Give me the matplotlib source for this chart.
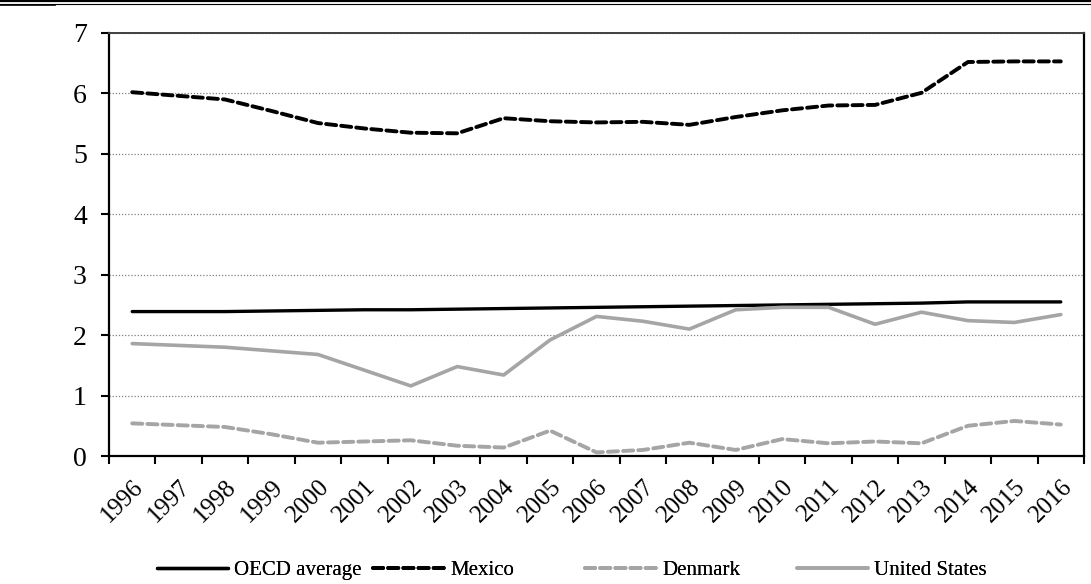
import matplotlib

matplotlib.use("Agg")
import matplotlib.pyplot as plt
from matplotlib.lines import Line2D
import numpy as np

# ---- data -------------------------------------------------------------------
years = [str(y) for y in range(1996, 2017)]
oecd = [2.39, 2.39, 2.39, 2.40, 2.41, 2.42, 2.42, 2.43, 2.44, 2.45, 2.46,
        2.47, 2.48, 2.49, 2.50, 2.51, 2.52, 2.53, 2.55, 2.55, 2.55]
mexico = [6.02, 5.96, 5.90, 5.71, 5.51, 5.42, 5.35, 5.34, 5.59, 5.54, 5.52,
          5.53, 5.48, 5.61, 5.72, 5.80, 5.81, 6.01, 6.52, 6.53, 6.53]
denmark = [0.54, 0.51, 0.48, 0.36, 0.22, 0.24, 0.26, 0.17, 0.14, 0.42, 0.06,
           0.10, 0.22, 0.10, 0.28, 0.21, 0.24, 0.21, 0.50, 0.58, 0.52]
usa = [1.86, 1.83, 1.80, 1.74, 1.68, 1.42, 1.16, 1.48, 1.34, 1.92, 2.31,
       2.23, 2.10, 2.42, 2.46, 2.46, 2.18, 2.38, 2.24, 2.21, 2.34]
y_ticks = [0, 1, 2, 3, 4, 5, 6, 7]

GREY = "#a5a5a5"
plt.rcParams["font.family"] = ["Liberation Serif", "DejaVu Serif"]

fig = plt.figure(figsize=(10.91, 5.84), dpi=100)
ax = fig.add_axes([109 / 1091, 1 - 456 / 584, (1084 - 109) / 1091, (456 - 33) / 584])

x = np.arange(len(years))
dash = (2.6, 1.3)
lines = []
lines += ax.plot(x, oecd, color="black", lw=2.4, solid_capstyle="round", label="OECD average")
lines += ax.plot(x, mexico, color="black", lw=2.8, dashes=dash, dash_capstyle="round", label="Mexico")
lines += ax.plot(x, denmark, color=GREY, lw=2.8, dashes=dash, dash_capstyle="round", label="Denmark")
lines += ax.plot(x, usa, color=GREY, lw=2.6, solid_capstyle="round", label="United States")

ax.set_xlim(-0.5, len(years) - 0.5)
ax.set_ylim(0, 7)
ax.set_yticks(y_ticks)
ax.yaxis.grid(True, linestyle=(0, (1, 1.5)), color="#808080", lw=0.9)
ax.set_axisbelow(True)

# ticks between categories, labels centred on categories
ax.set_xticks(np.arange(-0.5, len(years)))
ax.set_xticklabels([])
ax.set_xticks(x, minor=True)
ax.set_xticklabels(years, minor=True, rotation=45, ha="right", va="top",
                   rotation_mode="anchor", fontsize=18)
ax.tick_params(axis="x", which="major", direction="out", length=6, width=1.5)
ax.tick_params(axis="x", which="minor", length=0, pad=14)
ax.tick_params(axis="y", direction="out", length=6, width=1.5, labelsize=20, pad=10)

for side in ["left", "bottom", "right"]:
    ax.spines[side].set_linewidth(1.6)
    ax.spines[side].set_color("black")
ax.spines["top"].set_linewidth(1.4)
ax.spines["top"].set_color("#404040")

# legend: one entry per fixed-width slot, like the source
slot_x = [157, 373, 585, 797]
for ln, sx in zip(lines, slot_x):
    leg = fig.legend([ln], [ln.get_label()], loc="center left",
                     bbox_to_anchor=(sx / 1091, 1 - 570 / 584), frameon=False,
                     fontsize=15, handlelength=3.4, handletextpad=0.3,
                     borderpad=0, borderaxespad=0)
    fig.add_artist(leg)

# header rules at the top of the page
fig.add_artist(Line2D([0, 1], [1 - 1 / 584, 1 - 1 / 584], color="black", lw=1.6,
                      transform=fig.transFigure))
fig.add_artist(Line2D([0, 1], [1 - 3.7 / 584, 1 - 3.7 / 584], color="black", lw=0.8,
                      transform=fig.transFigure))
fig.add_artist(Line2D([0, 55 / 1091], [1 - 4.8 / 584, 1 - 4.8 / 584], color="black",
                      lw=1.2, transform=fig.transFigure))

fig.savefig("out.png", dpi=100)
